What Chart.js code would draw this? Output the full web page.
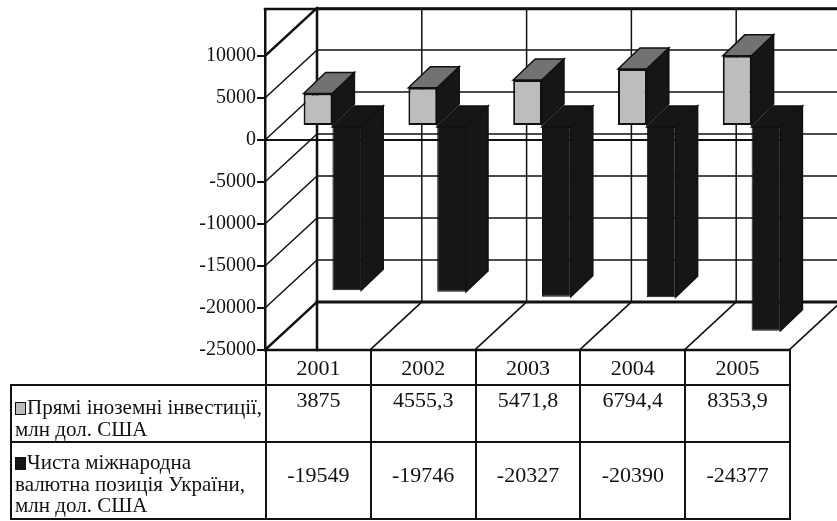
<!DOCTYPE html>
<html>
<head>
<meta charset="utf-8">
<script src="https://cdn.jsdelivr.net/npm/chart.js@4.4.1/dist/chart.umd.min.js"></script>
<style>
  html, body { margin: 0; padding: 0; background: #fff; }
  #wrap { position: relative; width: 837px; height: 521px; overflow: hidden; background: #fff; }
  #chart { position: absolute; left: 0; top: 0; }
  #dataTable { position: absolute; left: 10px; top: 349px; width: 781px; border-collapse: collapse; table-layout: fixed;
    font-family: 'Liberation Serif', serif; font-size: 21px; color: #111; }
  #dataTable td { border: 2px solid #111; padding: 0; text-align: center; vertical-align: top; }
  #dataTable tr.years td { height: 33px; vertical-align: middle; font-size: 22px; }
  #dataTable tr.years td.blank { border-top: none; border-left: none; }
  #dataTable tr.s1 td { height: 55px; }
  #dataTable tr.s2 td { height: 75px; }
  #dataTable td.val { font-size: 22px; }
  #dataTable tr.s1 td.val div { padding-top: 1px; }
  #dataTable tr.s2 td.val div { padding-top: 19px; }
  #dataTable td.lbl { text-align: left; line-height: 21.5px; white-space: nowrap; }
  #dataTable td.lbl div { padding-left: 3px; }
  #dataTable tr.s1 td.lbl div { padding-top: 11px; }
  #dataTable tr.s2 td.lbl div { padding-top: 9px; }
  .key { display: inline-block; width: 9px; height: 11px; border: 1px solid #111; margin-right: 1px; vertical-align: -1px; }
</style>
</head>
<body>
<div id="wrap">
  <canvas id="chart" width="837" height="521"></canvas>
  <table id="dataTable"></table>
</div>
<script>
// Data
const YEARS = ['2001', '2002', '2003', '2004', '2005'];
const FDI = [3875, 4555.3, 5471.8, 6794.4, 8353.9];
const NIIP = [-19549, -19746, -20327, -20390, -24377];
const TICKS = [-25000, -20000, -15000, -10000, -5000, 0, 5000, 10000];
const SERIES_LINES = [
  ['Прямі іноземні інвестиції,', 'млн дол. США'],
  ['Чиста міжнародна', 'валютна позиція України,', 'млн дол. США']
];

const INK = '#111';
const FRONT_GRAY = '#bdbdbd';
const TOP_GRAY = '#727272';
const BLACK = '#161616';
const WALL = { dx: 52, dy: -48 };      // back wall offset
const SHIFT = { dx: 15, dy: -14 };     // where the bar row sits in depth
const BAR_DEPTH = { dx: 22, dy: -21 }; // bar thickness

const fmt = v => String(v).replace('.', ',');

// DATA TABLE
// ============================================================
const table = document.getElementById('dataTable');
let html = '<colgroup><col style="width:255px">' + YEARS.map(() => '<col style="width:104.8px">').join('') + '</colgroup>';
html += '<tr class="years"><td class="blank"></td>' + YEARS.map(y => '<td>' + y + '</td>').join('') + '</tr>';
html += '<tr class="s1"><td class="lbl"><div><span class="key" style="background:' + FRONT_GRAY + '"></span>' + SERIES_LINES[0].join('<br>') + '</div></td>'
  + FDI.map(v => '<td class="val"><div>' + fmt(v) + '</div></td>').join('') + '</tr>';
html += '<tr class="s2"><td class="lbl"><div><span class="key" style="background:' + BLACK + '"></span>' + SERIES_LINES[1].join('<br>') + '</div></td>'
  + NIIP.map(v => '<td class="val"><div>' + fmt(v) + '</div></td>').join('') + '</tr>';
table.innerHTML = html;

// 3D BOX PLUGIN
// ============================================================
function line(ctx, x1, y1, x2, y2, w) {
  ctx.lineWidth = w;
  ctx.beginPath(); ctx.moveTo(x1, y1); ctx.lineTo(x2, y2); ctx.stroke();
}
function poly(ctx, pts, fill) {
  ctx.beginPath();
  ctx.moveTo(pts[0][0], pts[0][1]);
  pts.slice(1).forEach(p => ctx.lineTo(p[0], p[1]));
  ctx.closePath();
  ctx.fillStyle = fill; ctx.fill();
  ctx.lineWidth = 1.5; ctx.strokeStyle = INK; ctx.stroke();
}

const box3d = {
  id: 'box3d',
  beforeDatasetsDraw(chart) {
    const { ctx, chartArea: a, scales: { y } } = chart;
    const W = chart.width;
    const step = a.width / YEARS.length;
    ctx.save();
    ctx.strokeStyle = INK;
    ctx.lineCap = 'square';
    // back wall verticals
    for (let k = 0; k <= YEARS.length; k++) {
      const bx = a.left + k * step + WALL.dx;
      line(ctx, bx, a.top, bx, k === 0 ? a.bottom : y.getPixelForValue(TICKS[0]) + WALL.dy, k === 0 ? 2.5 : 1.5);
    }
    // gridlines on the back wall + side wall diagonals
    TICKS.forEach((v, i) => {
      const fy = y.getPixelForValue(v);
      line(ctx, a.left + WALL.dx, fy + WALL.dy, W, fy + WALL.dy, i === 0 ? 3 : 1.6);
      line(ctx, a.left, fy, a.left + WALL.dx, fy + WALL.dy, i === 0 || i === TICKS.length - 1 ? 2.5 : 1.5);
    });
    // floor diagonals
    for (let k = 1; k <= YEARS.length; k++) {
      const fx = a.left + k * step;
      line(ctx, fx, a.bottom, fx + WALL.dx, a.bottom + WALL.dy, 1.6);
    }
    // outer top edge, front floor edge and category axis at zero
    line(ctx, a.left, a.top, W, a.top, 2.5);
    line(ctx, a.left, a.bottom, a.right, a.bottom, 2.5);
    line(ctx, a.left, y.getPixelForValue(0), a.right, y.getPixelForValue(0), 2);
    ctx.restore();

    ctx.save();
    ctx.translate(SHIFT.dx, SHIFT.dy);
  },
  afterDatasetDraw(chart, args) {
    const ctx = chart.ctx;
    const topFill = args.index === 0 ? TOP_GRAY : BLACK;
    args.meta.data.forEach(bar => {
      const { x, y, base, width } = bar.getProps(['x', 'y', 'base', 'width'], true);
      const l = x - width / 2, r = x + width / 2;
      const t = Math.min(y, base), b = Math.max(y, base);
      const d = BAR_DEPTH;
      poly(ctx, [[l, t], [l + d.dx, t + d.dy], [r + d.dx, t + d.dy], [r, t]], topFill);
      poly(ctx, [[r, t], [r + d.dx, t + d.dy], [r + d.dx, b + d.dy], [r, b]], BLACK);
    });
  },
  afterDatasetsDraw(chart) {
    chart.ctx.restore();
  }
};

// CHART
// ============================================================
new Chart(document.getElementById('chart'), {
  type: 'bar',
  data: {
    labels: YEARS,
    datasets: [
      { label: SERIES_LINES[0].join(' '), data: FDI, backgroundColor: FRONT_GRAY, borderColor: INK, borderWidth: 2, borderSkipped: false, clip: false },
      { label: SERIES_LINES[1].join(' '), data: NIIP, backgroundColor: BLACK, borderColor: INK, borderWidth: 1, borderSkipped: false, clip: false }
    ]
  },
  options: {
    responsive: false,
    animation: false,
    events: [],
    layout: { padding: { left: 0, top: 9, right: 48, bottom: 171 } },
    datasets: { bar: { categoryPercentage: 0.55, barPercentage: 1 } },
    plugins: { legend: { display: false }, tooltip: { enabled: false } },
    scales: {
      x: { display: false },
      y: {
        min: -25000,
        max: 15600,
        afterBuildTicks: axis => { axis.ticks = TICKS.map(v => ({ value: v })); },
        afterFit: axis => { axis.width = 265; axis.paddingTop = 0; axis.paddingBottom = 0; },
        grid: { drawOnChartArea: false, drawTicks: true, tickLength: 8, color: INK, lineWidth: 2 },
        border: { display: true, color: INK, width: 2.5 },
        ticks: { color: INK, padding: 1, font: { family: 'Liberation Serif', size: 20 }, callback: v => String(v) }
      }
    }
  },
  plugins: [box3d]
});
</script>
</body>
</html>
